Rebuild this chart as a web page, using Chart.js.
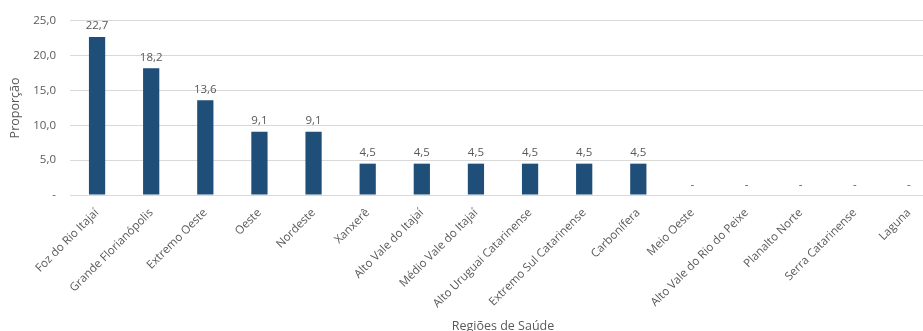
<!DOCTYPE html>
<html>
<head>
<meta charset="utf-8">
<script src="https://cdn.jsdelivr.net/npm/chart.js@4"></script>
<style>
  html, body { margin: 0; padding: 0; background: #fff; overflow: hidden; }
  #wrap { width: 940px; height: 331px; position: relative; }
</style>
</head>
<body>
<div id="wrap"><canvas id="c"></canvas></div>
<script>
const regioes = [
  'Foz do Rio Itajaí', 'Grande Florianópolis', 'Extremo Oeste', 'Oeste', 'Nordeste',
  'Xanxerê', 'Alto Vale do Itajaí', 'Médio Vale do Itajaí', 'Alto Uruguai Catarinense',
  'Extremo Sul Catarinense', 'Carbonífera', 'Meio Oeste', 'Alto Vale do Rio do Peixe',
  'Planalto Norte', 'Serra Catarinense', 'Laguna'
];
const proporcao = [22.7, 18.2, 13.6, 9.1, 9.1, 4.5, 4.5, 4.5, 4.5, 4.5, 4.5, 0, 0, 0, 0, 0];
const yTicks = [0, 5, 10, 15, 20, 25];

const fmt = v => v === 0 ? '-' : v.toFixed(1).replace('.', ',');
const FONT = "'Open Sans', 'Liberation Sans', sans-serif";
const GREY = '#595959';

// value labels above each bar ("-" for zero)
const valueLabels = {
  id: 'valueLabels',
  afterDatasetsDraw(chart) {
    const ctx = chart.ctx;
    const meta = chart.getDatasetMeta(0);
    ctx.save();
    ctx.fillStyle = GREY;
    ctx.font = '11.5px ' + FONT;
    ctx.textAlign = 'center';
    ctx.textBaseline = 'bottom';
    meta.data.forEach((bar, i) => {
      ctx.fillText(fmt(proporcao[i]), bar.x, bar.y - 5);
    });
    ctx.restore();
  }
};

new Chart(document.getElementById('c'), {
  type: 'bar',
  data: {
    labels: regioes,
    datasets: [{
      data: proporcao,
      backgroundColor: '#1F4E79',
      borderWidth: 0,
      barPercentage: 0.6,
      categoryPercentage: 0.5
    }]
  },
  options: {
    responsive: true,
    maintainAspectRatio: false,
    animation: false,
    layout: { padding: { top: 12, right: 4, left: 0, bottom: 2 } },
    plugins: { legend: { display: false }, tooltip: { enabled: false } },
    scales: {
      x: {
        grid: { display: false, drawTicks: false },
        border: { color: '#d9d9d9' },
        ticks: {
          color: GREY, font: { family: FONT, size: 11.5 },
          minRotation: 45, maxRotation: 45, padding: 11
        },
        title: {
          display: true, text: 'Regiões de Saúde', color: GREY,
          font: { family: FONT, size: 12.5 }, padding: { top: 0, bottom: -5 }
        },
        afterFit(s) { s.height = 134; }
      },
      y: {
        min: 0, max: 25,
        afterBuildTicks(s) { s.ticks = yTicks.map(v => ({ value: v })); },
        grid: { color: '#d9d9d9', drawTicks: false },
        border: { display: false },
        ticks: {
          color: GREY, font: { family: FONT, size: 11.5 }, padding: 14,
          callback: v => fmt(v)
        },
        title: {
          display: true, text: 'Proporção', color: GREY,
          font: { family: FONT, size: 12.5 }, padding: { top: 8, bottom: 0 }
        },
        afterFit(s) { s.width = 70; }
      }
    }
  },
  plugins: [valueLabels]
});
</script>
</body>
</html>
